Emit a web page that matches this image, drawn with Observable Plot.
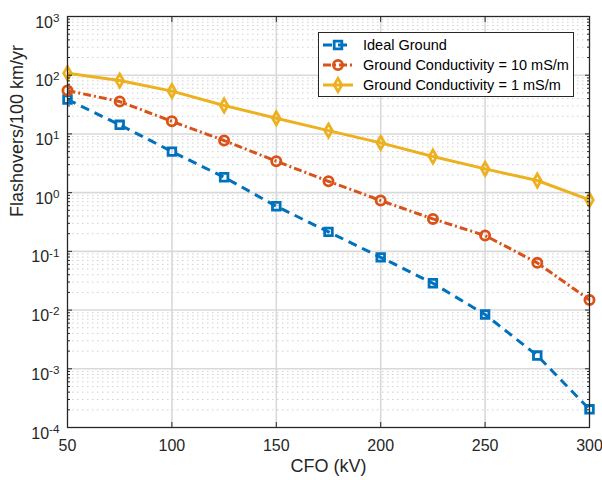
<!DOCTYPE html>
<html><head><meta charset="utf-8">
<script src="https://cdn.jsdelivr.net/npm/d3@7"></script>
<script src="https://cdn.jsdelivr.net/npm/@observablehq/plot@0.6"></script>
<style>body{margin:0;background:#fff} svg{display:block}</style>
</head><body><div id="chart"></div>
<script>
// ---- data ----
const cfo = [50, 75, 100, 125, 150, 175, 200, 225, 250, 275, 300];
const idealGround = [38.5, 14.3, 5.0, 1.83, 0.586, 0.215, 0.079, 0.0286, 0.0084, 0.00168, 0.000204];
const cond10 = [54.8, 35.6, 16.4, 7.72, 3.43, 1.56, 0.733, 0.357, 0.186, 0.0637, 0.0149];
const cond1 = [108, 81, 53.6, 30.5, 18.5, 11.4, 7.05, 4.12, 2.54, 1.61, 0.753];
const seriesNames = ["Ideal Ground", "Ground Conductivity = 10 mS/m", "Ground Conductivity = 1 mS/m"];
const seriesColors = ["#0072BD", "#D95319", "#EDB120"];
const seriesDash = ["9,6", "8,3,2,3", null];
const seriesSymbols = ["square", "circle", "diamond"];
const xTicks = [50, 100, 150, 200, 250, 300];
const yExps = [-4, -3, -2, -1, 0, 1, 2, 3];
const xLabel = "CFO (kV)";
const yLabel = "Flashovers/100 km/yr";

const decades = yExps.map(e => 10 ** e);
const minor = d3.range(-4, 3).flatMap(k => d3.range(2, 10).map(m => m * 10 ** k));
const seriesData = [idealGround, cond10, cond1].map(arr => arr.map((v, i) => ({x: cfo[i], y: v})));

const ink = "#262626";
const font = "'Liberation Sans', Arial, Helvetica, sans-serif";
const noText = () => "";
const symR = [4.3, 4.6, 4.0];

const seriesMarks = seriesData.flatMap((d, s) => [
  Plot.line(d, {x: "x", y: "y", stroke: seriesColors[s], strokeWidth: 3, strokeDasharray: seriesDash[s], strokeLinecap: "butt"}),
  Plot.dot(d, {x: "x", y: "y", stroke: seriesColors[s], strokeWidth: 2.8, fill: "none", symbol: seriesSymbols[s], r: symR[s]})
]);

const svg = Plot.plot({
  width: 602, height: 480,
  marginLeft: 67, marginRight: 13, marginTop: 16, marginBottom: 53,
  style: {fontFamily: font, color: ink, background: "white"},
  x: {domain: [50, 300]},
  y: {type: "log", domain: [1e-4, 1e3]},
  marks: [
    Plot.ruleY(minor, {stroke: "#d0d0d0", strokeDasharray: "1.5,3.5", strokeWidth: 1}),
    Plot.ruleY(decades, {stroke: "#d9d9d9", strokeWidth: 1.6}),
    Plot.ruleX(xTicks, {stroke: "#d9d9d9", strokeWidth: 1.6}),
    ...seriesMarks,
    Plot.frame({stroke: ink, strokeWidth: 1.2}),
    Plot.axisX(xTicks, {anchor: "bottom", tickSize: 0, tickPadding: 12, fontSize: 16, label: null, tickFormat: d => String(d)}),
    Plot.axisX(xTicks, {anchor: "bottom", tickSize: -5, tickFormat: noText, label: null, stroke: ink}),
    Plot.axisX(xTicks, {anchor: "top", tickSize: -5, tickFormat: noText, label: null, stroke: ink}),
    Plot.axisY(decades, {anchor: "left", tickSize: 0, tickPadding: 8, fontSize: 16, dy: 6, label: null, tickFormat: d => "10^" + Math.round(Math.log10(d))}),
    Plot.axisY(decades, {anchor: "left", tickSize: -5, tickFormat: noText, label: null, stroke: ink}),
    Plot.axisY(minor, {anchor: "left", tickSize: -3, tickFormat: noText, label: null, stroke: ink}),
    Plot.axisY(decades, {anchor: "right", tickSize: -5, tickFormat: noText, label: null, stroke: ink}),
    Plot.axisY(minor, {anchor: "right", tickSize: -3, tickFormat: noText, label: null, stroke: ink}),
    Plot.text([xLabel], {frameAnchor: "bottom", dy: 44, fontSize: 18, fill: ink}),
    Plot.text([yLabel], {frameAnchor: "left", dx: -50, dy: -5, rotate: -90, fontSize: 18, fill: ink})
  ]
});

// superscript exponents on y tick labels
d3.select(svg).selectAll('g[aria-label="y-axis tick label"] text').each(function () {
  const t = d3.select(this);
  const s = t.text();
  if (!s.includes("^")) return;
  const [b, e] = s.split("^");
  t.text(b);
  t.append("tspan").attr("dy", "-0.5em").attr("font-size", "0.73em").text(e);
});

// legend
const lg = d3.select(svg).append("g").attr("font-family", font).attr("text-anchor", "start");
lg.append("rect").attr("x", 318.5).attr("y", 32.5).attr("width", 255).attr("height", 64)
  .attr("fill", "white").attr("stroke", ink).attr("stroke-width", 1);
const symbolMap = {square: d3.symbolSquare, circle: d3.symbolCircle, diamond: d3.symbolDiamond};
seriesNames.forEach((name, s) => {
  const cy = 45 + 20 * s;
  lg.append("line").attr("x1", 323).attr("x2", 353).attr("y1", cy).attr("y2", cy)
    .attr("stroke", seriesColors[s]).attr("stroke-width", 3).attr("stroke-dasharray", seriesDash[s]);
  const r = symR[s];
  lg.append("path").attr("d", d3.symbol(symbolMap[seriesSymbols[s]], Math.PI * r * r)())
    .attr("transform", `translate(338,${cy})`).attr("fill", "none").attr("stroke", seriesColors[s]).attr("stroke-width", 2.8);
  lg.append("text").attr("x", 363).attr("y", cy).attr("dy", "0.35em").attr("font-size", 14.5).attr("fill", "#000").text(name);
});

document.getElementById("chart").appendChild(svg);
</script>
</body></html>
